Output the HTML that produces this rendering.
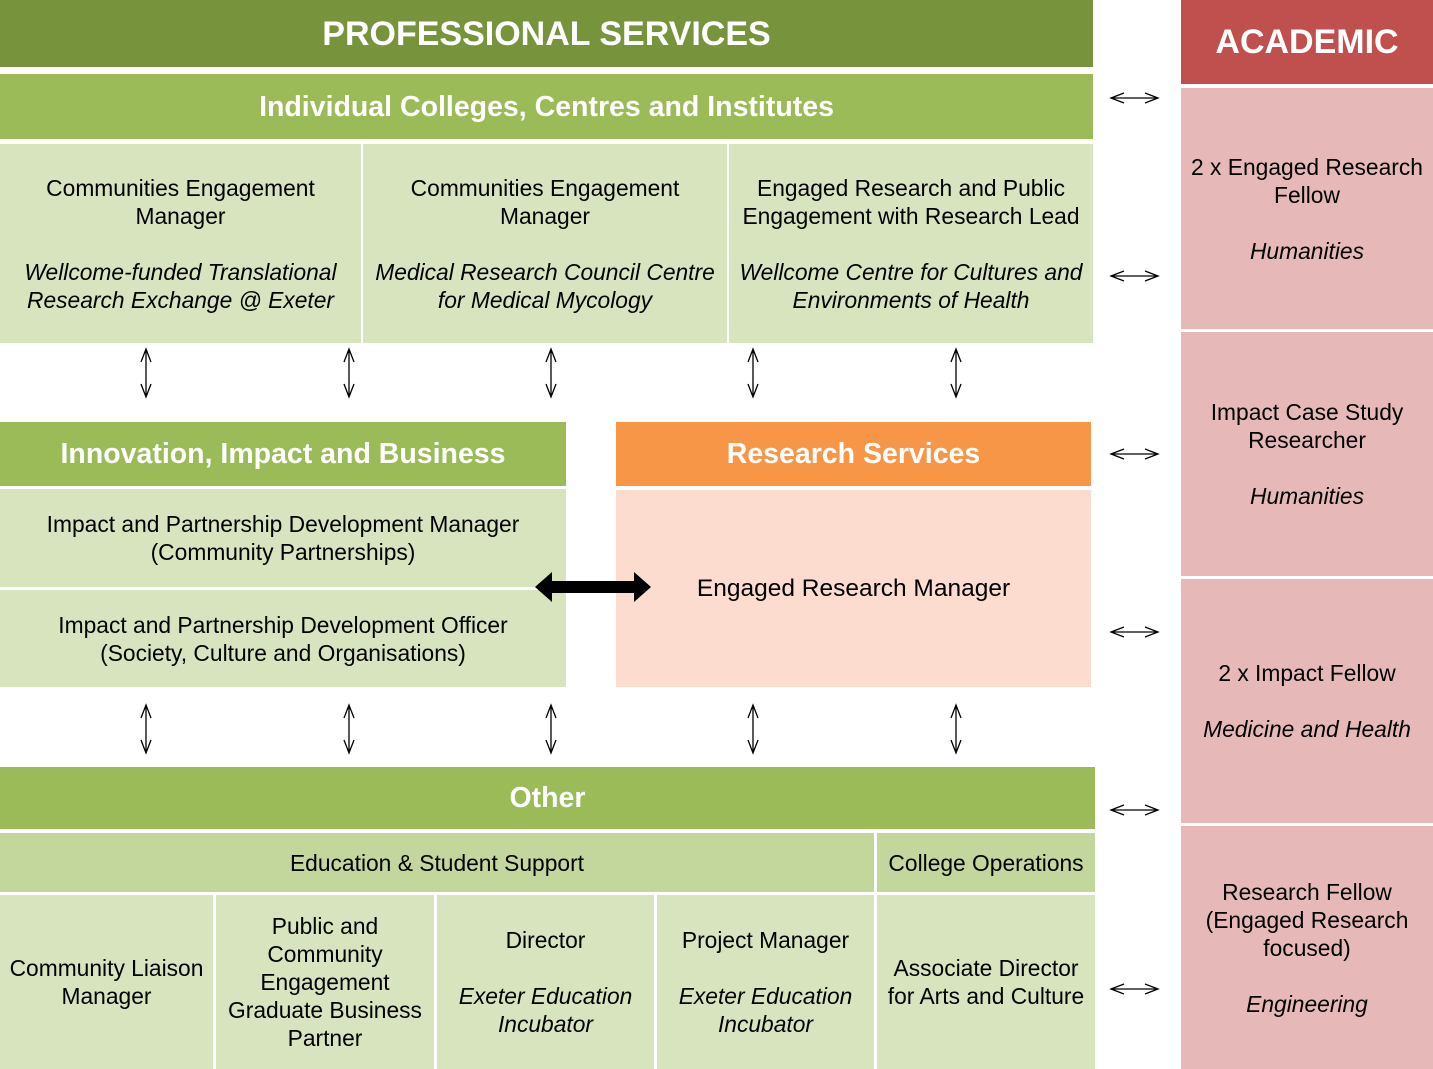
<!DOCTYPE html>
<html><head><meta charset="utf-8"><style>
body{margin:0;width:1433px;height:1069px;position:relative;background:#fff;font-family:"Liberation Sans",Arial,sans-serif;overflow:hidden}
.b{position:absolute;display:flex;align-items:center;justify-content:center;text-align:center;box-sizing:border-box;color:#000;font-size:22.8px;line-height:28px}
.h{color:#fff;font-weight:bold;font-size:28.5px}
.g{background:#d7e4bd}.G{background:#9bbb59}.p{background:#e6b9b8}
i{font-style:italic}
svg{position:absolute;left:0;top:0}
</style></head><body>
<div class="b h" style="left:0;top:0;width:1093px;height:67px;background:#77933c;font-size:34px">PROFESSIONAL SERVICES</div>
<div class="b h G" style="left:0;top:74px;width:1093px;height:65px">Individual Colleges, Centres and Institutes</div>
<div class="b g" style="left:0;top:144px;width:361px;height:199px"><div>Communities Engagement<br>Manager<br><br><i>Wellcome-funded Translational<br>Research Exchange @ Exeter</i></div></div>
<div class="b g" style="left:363px;top:144px;width:364px;height:199px"><div>Communities Engagement<br>Manager<br><br><i>Medical Research Council Centre<br>for Medical Mycology</i></div></div>
<div class="b g" style="left:729px;top:144px;width:364px;height:199px"><div>Engaged Research and Public<br>Engagement with Research Lead<br><br><i>Wellcome Centre for Cultures and<br>Environments of Health</i></div></div>
<div class="b h G" style="left:0;top:422px;width:566px;height:64px">Innovation, Impact and Business</div>
<div class="b h" style="left:616px;top:422px;width:475px;height:64px;background:#f79646">Research Services</div>
<div class="b g" style="left:0;top:489px;width:566px;height:98px"><div>Impact and Partnership Development Manager<br>(Community Partnerships)</div></div>
<div class="b g" style="left:0;top:590px;width:566px;height:97px"><div>Impact and Partnership Development Officer<br>(Society, Culture and Organisations)</div></div>
<div class="b" style="left:616px;top:490px;width:475px;height:197px;background:#fcdcce;font-size:24.5px">Engaged Research Manager</div>
<div class="b h G" style="left:0;top:767px;width:1095px;height:62px">Other</div>
<div class="b" style="left:0;top:833px;width:874px;height:59px;background:#c3d69b">Education &amp; Student Support</div>
<div class="b" style="left:877px;top:833px;width:218px;height:59px;background:#c3d69b">College Operations</div>
<div class="b g" style="left:0;top:895px;width:213px;height:174px"><div>Community Liaison<br>Manager</div></div>
<div class="b g" style="left:216px;top:895px;width:218px;height:174px"><div>Public and<br>Community<br>Engagement<br>Graduate Business<br>Partner</div></div>
<div class="b g" style="left:437px;top:895px;width:217px;height:174px"><div>Director<br><br><i>Exeter Education<br>Incubator</i></div></div>
<div class="b g" style="left:657px;top:895px;width:217px;height:174px"><div>Project Manager<br><br><i>Exeter Education<br>Incubator</i></div></div>
<div class="b g" style="left:877px;top:895px;width:218px;height:174px"><div>Associate Director<br>for Arts and Culture</div></div>
<div class="b h" style="left:1181px;top:0;width:252px;height:84px;background:#c0504d;font-size:34px">ACADEMIC</div>
<div class="b p" style="left:1181px;top:88px;width:252px;height:241px"><div>2 x Engaged Research<br>Fellow<br><br><i>Humanities</i></div></div>
<div class="b p" style="left:1181px;top:332px;width:252px;height:244px"><div>Impact Case Study<br>Researcher<br><br><i>Humanities</i></div></div>
<div class="b p" style="left:1181px;top:579px;width:252px;height:244px"><div>2 x Impact Fellow<br><br><i>Medicine and Health</i></div></div>
<div class="b p" style="left:1181px;top:826px;width:252px;height:243px"><div>Research Fellow<br>(Engaged Research<br>focused)<br><br><i>Engineering</i></div></div>
<svg width="1433" height="1069" fill="none" stroke="#000" stroke-width="1.3">
<g id="v">
<path d="M146 349V397M141 362L146 349L151 362M141 384L146 397L151 384"/>
<path d="M349 349V397M344 362L349 349L354 362M344 384L349 397L354 384"/>
<path d="M551 349V397M546 362L551 349L556 362M546 384L551 397L556 384"/>
<path d="M753 349V397M748 362L753 349L758 362M748 384L753 397L758 384"/>
<path d="M956 349V397M951 362L956 349L961 362M951 384L956 397L961 384"/>
</g>
<use href="#v" y="356"/>
<g id="hz"><path d="M1111 98H1158M1124 93L1111 98L1124 103M1145 93L1158 98L1145 103"/></g>
<use href="#hz" y="178"/><use href="#hz" y="356"/><use href="#hz" y="534"/><use href="#hz" y="712"/><use href="#hz" y="891"/>
<path d="M535 587L552 572V581H634V572L651 587L634 602V593H552V602Z" fill="#000" stroke="none"/>
</svg>
</body></html>
